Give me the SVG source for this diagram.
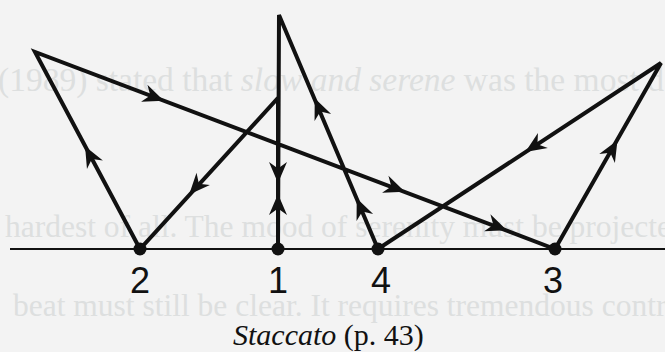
<svg xmlns="http://www.w3.org/2000/svg" xmlns:xlink="http://www.w3.org/1999/xlink" width="665" height="352" viewBox="0 0 665 352">
  <style>
    .bg { fill: #f3f3f3; }
    .bleed { fill: #dddfdf; font-family: "Liberation Serif", serif; }
    .stroke { fill: none; stroke: #111; stroke-width: 4; stroke-linecap: round; stroke-linejoin: miter; }
    .base { fill: none; stroke: #111; stroke-width: 2.2; }
    .dot { fill: #111; }
    .beat { fill: #111; font-family: "Liberation Sans", Arial, sans-serif; font-size: 36px; text-anchor: middle; }
    .caption { fill: #111; font-family: "Liberation Serif", "Times New Roman", serif; font-size: 30px; }
  </style>
  <defs>
    <path id="ah" d="M2,0 L-19,-9 L-12.5,0 L-19,9 Z" fill="#111"/>
  </defs>
  <rect class="bg" x="0" y="0" width="665" height="352"/>

  <g id="bleed-through">
    <text class="bleed" x="-2" y="91" font-size="33.5">(1989) stated that <tspan font-style="italic">slow and serene</tspan> was the most d</text>
    <text class="bleed" x="5" y="237" font-size="31.5">hardest of all. The mood of serenity must be projecte</text>
    <text class="bleed" x="13" y="316" font-size="31.5">beat must still be clear. It requires tremendous contr</text>
  </g>

  <g id="connectors">
    <line class="base" x1="10" y1="249" x2="665" y2="249"/>
    <path id="pattern" class="stroke" d="M278,249 L278,98 L140,249 L35,52 L555,249 L661,63 L378,249 L279,15 L278,249"/>
    <g id="arrowheads">
      <use xlink:href="#ah" href="#ah" transform="translate(162,100) rotate(20.75)"/>
      <use xlink:href="#ah" href="#ah" transform="translate(403,191) rotate(20.75)"/>
      <use xlink:href="#ah" href="#ah" transform="translate(505,229.5) rotate(20.75)"/>
      <use xlink:href="#ah" href="#ah" transform="translate(190.5,193) rotate(132)"/>
      <use xlink:href="#ah" href="#ah" transform="translate(86,148) rotate(-118)"/>
      <use xlink:href="#ah" href="#ah" transform="translate(278,181) rotate(90)"/>
      <use xlink:href="#ah" href="#ah" transform="translate(278,196) rotate(-90)"/>
      <use xlink:href="#ah" href="#ah" transform="translate(315.5,100) rotate(-112.8)"/>
      <use xlink:href="#ah" href="#ah" transform="translate(357.5,200) rotate(-112.8)"/>
      <use xlink:href="#ah" href="#ah" transform="translate(616.5,142) rotate(-60.3)"/>
      <use xlink:href="#ah" href="#ah" transform="translate(527,151) rotate(146.7)"/>
    </g>
  </g>

  <g id="beat-2">
    <circle class="dot" cx="140" cy="249" r="6.5"/>
    <text class="beat" x="140" y="293">2</text>
  </g>
  <g id="beat-1">
    <circle class="dot" cx="278" cy="249" r="6.5"/>
    <text class="beat" x="278" y="293">1</text>
  </g>
  <g id="beat-4">
    <circle class="dot" cx="378" cy="249" r="6.5"/>
    <text class="beat" x="381" y="293">4</text>
  </g>
  <g id="beat-3">
    <circle class="dot" cx="555" cy="249" r="6.5"/>
    <text class="beat" x="553" y="293">3</text>
  </g>

  <g id="caption">
    <text class="caption" x="233" y="345"><tspan font-style="italic">Staccato</tspan> (p. 43)</text>
  </g>
</svg>
